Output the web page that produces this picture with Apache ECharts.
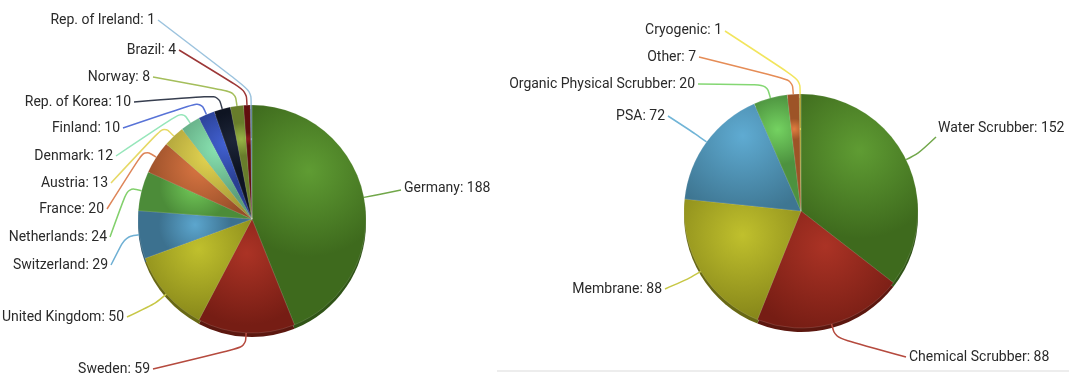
<!DOCTYPE html>
<html>
<head>
<meta charset="utf-8">
<title>Biogas upgrading plants</title>
<script src="https://cdn.jsdelivr.net/npm/echarts@6/dist/echarts.min.js"></script>
<style>
  html, body { margin: 0; padding: 0; background: #ffffff; }
  #chart { width: 1069px; height: 381px; }
</style>
</head>
<body>
<div id="chart"></div>
<script>
// Upgrading plants per country
const countryNames = ['Germany', 'Sweden', 'United Kingdom', 'Switzerland', 'Netherlands', 'France',
  'Austria', 'Denmark', 'Finland', 'Rep. of Korea', 'Norway', 'Brazil', 'Rep. of Ireland'];
const countryPlants = [188, 59, 50, 29, 24, 20, 13, 12, 10, 10, 8, 4, 1];

// Upgrading plants per technology
const techNames = ['Water Scrubber', 'Chemical Scrubber', 'Membrane', 'PSA',
  'Organic Physical Scrubber', 'Other', 'Cryogenic'];
const techPlants = [152, 88, 88, 72, 20, 7, 1];

// Slice colours
const countryColors = ['#58982a', '#a82a1c', '#bdbd24', '#55a2cc', '#6cc852', '#d8703a',
  '#e2d24a', '#84e2ae', '#3a5ad0', '#141c30', '#94b23e', '#8a1414', '#8ab8d8'];
const techColors = ['#58982a', '#a82a1c', '#bdbd24', '#58a8d0', '#6ed05a', '#e07838', '#f0e040'];

// Label placement: [textX, textY, align, connectorEndX, connectorEndY]
const countryLabelPlaces = [
  [404, 188, 'left', 401, 190],
  [150, 369, 'right', 153, 369],
  [124, 317, 'right', 127, 317],
  [108, 265, 'right', 111, 265],
  [107, 237, 'right', 110, 237],
  [104, 209, 'right', 107, 209],
  [108, 183, 'right', 111, 183],
  [113, 156, 'right', 116, 156],
  [120, 128, 'right', 123, 128],
  [131, 102, 'right', 134, 102],
  [150, 77, 'right', 153, 77],
  [176, 50, 'right', 179, 50],
  [155, 20, 'right', 158, 20]
];
const techLabelPlaces = [
  [938, 128, 'left', 936, 137],
  [909, 357, 'left', 906, 357],
  [662, 289, 'right', 665, 289],
  [665, 116, 'right', 668, 116],
  [695, 84, 'right', 698, 84],
  [696, 57, 'right', 699, 57],
  [722, 30, 'right', 725, 31]
];

const labelFont = "'Liberation Sans Narrow', 'Arial Narrow', Roboto, sans-serif";

// Mix a hex colour toward black (f < 0) or white (f > 0)
function shade(hex, f) {
  const n = parseInt(hex.slice(1), 16);
  const t = f < 0 ? 0 : 255;
  const p = Math.abs(f);
  const ch = [n >> 16, (n >> 8) & 255, n & 255].map(c => Math.round(c + (t - c) * p));
  return 'rgb(' + ch.join(',') + ')';
}

function sliceFill(hex) {
  return new echarts.graphic.RadialGradient(0.5, 0.3, 0.75, [
    { offset: 0, color: shade(hex, 0.04) },
    { offset: 1, color: shade(hex, -0.3) }
  ]);
}

// A pie drawn twice: a darker copy slightly lower gives the thick rim
function pieSeries(names, values, colors, places, center, radius) {
  const rim = {
    type: 'pie',
    silent: true,
    z: 1,
    center: [center[0], center[1] + 4],
    radius: radius,
    startAngle: 90,
    clockwise: true,
    animation: false,
    label: { show: false },
    labelLine: { show: false },
    data: names.map((n, i) => ({
      name: n, value: values[i],
      itemStyle: { color: shade(colors[i], -0.45) }
    }))
  };
  const face = {
    type: 'pie',
    z: 2,
    center: center,
    radius: radius,
    startAngle: 90,
    clockwise: true,
    animation: false,
    avoidLabelOverlap: false,
    itemStyle: { borderColor: 'rgba(255,255,255,0.25)', borderWidth: 0.5 },
    label: {
      show: true,
      formatter: '{b}: {c}',
      fontFamily: labelFont,
      fontSize: 14,
      color: '#2a2a2a'
    },
    labelLine: { show: true, length: 14, length2: 10, smooth: 0.35, lineStyle: { width: 1.5 } },
    labelLayout: function (p) {
      const pl = places[p.dataIndex];
      const pts = p.labelLinePoints;
      const out = { x: pl[0], y: pl[1], align: pl[2], verticalAlign: 'middle' };
      if (pts && pts.length >= 2) {
        out.labelLinePoints = [pts[0], pts[1], [pl[3], pl[4]]];
      }
      return out;
    },
    data: names.map((n, i) => ({
      name: n, value: values[i],
      itemStyle: { color: sliceFill(colors[i]) },
      labelLine: { lineStyle: { color: shade(colors[i], 0.15) } }
    }))
  };
  return [rim, face];
}

const chart = echarts.init(document.getElementById('chart'), null, { renderer: 'canvas' });
chart.setOption({
  backgroundColor: '#ffffff',
  animation: false,
  graphic: [{
    type: 'line',
    silent: true,
    shape: { x1: 497, y1: 371, x2: 1069, y2: 371 },
    style: { stroke: '#ededed', lineWidth: 2 }
  }],
  series: [].concat(
    pieSeries(countryNames, countryPlants, countryColors, countryLabelPlaces, [252, 219], 114),
    pieSeries(techNames, techPlants, techColors, techLabelPlaces, [801, 211], 117)
  )
});
</script>
</body>
</html>
